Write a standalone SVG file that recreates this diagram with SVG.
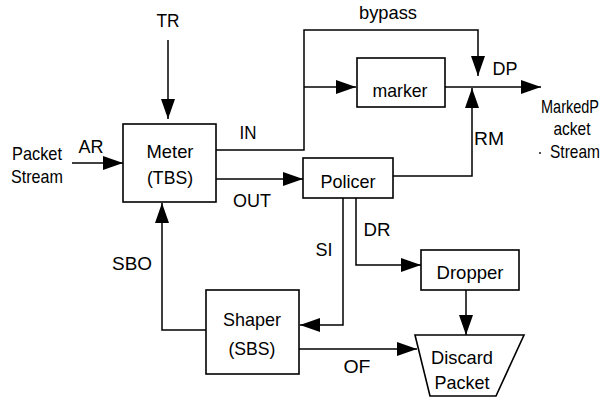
<svg xmlns="http://www.w3.org/2000/svg" width="615" height="398" viewBox="0 0 615 398">
<style>
  .box{fill:#fff;stroke:#000;stroke-width:1.6}
  .ln{fill:none;stroke:#000;stroke-width:1.5}
  text{font-family:"Liberation Sans",Arial,sans-serif;font-size:19px;fill:#000;text-anchor:middle}
</style>
<defs>
  <marker id="ah" markerUnits="userSpaceOnUse" markerWidth="22" markerHeight="16" refX="20" refY="7" orient="auto">
    <path d="M0,0 L20,7 L0,14 z" fill="#000"/>
  </marker>
</defs>
<rect width="615" height="398" fill="#fff"/>
<g id="connectors">
  <line class="ln" x1="168" y1="40" x2="168" y2="119" marker-end="url(#ah)"/>
  <line class="ln" x1="72" y1="163" x2="123" y2="163" marker-end="url(#ah)"/>
  <polyline class="ln" points="216,150 304,150 304,30 478,30 478,76" marker-end="url(#ah)"/>
  <line class="ln" x1="304" y1="87" x2="356" y2="87" marker-end="url(#ah)"/>
  <line class="ln" x1="445" y1="87" x2="541" y2="87" marker-end="url(#ah)"/>
  <polyline class="ln" points="393,176 472,176 472,88" marker-end="url(#ah)"/>
  <line class="ln" x1="216" y1="179" x2="303" y2="179" marker-end="url(#ah)"/>
  <polyline class="ln" points="343,198 343,325 300,325" marker-end="url(#ah)"/>
  <polyline class="ln" points="356,198 356,265 421,265" marker-end="url(#ah)"/>
  <line class="ln" x1="466" y1="290" x2="466" y2="335" marker-end="url(#ah)"/>
  <polyline class="ln" points="206,330 162,330 162,203" marker-end="url(#ah)"/>
  <line class="ln" x1="299" y1="349" x2="417" y2="349" marker-end="url(#ah)"/>
</g>
<g id="labels">
  <text x="168" y="27" textLength="23" lengthAdjust="spacingAndGlyphs">TR</text>
  <text x="91" y="153" textLength="25" lengthAdjust="spacingAndGlyphs">AR</text>
  <text x="37" y="160" textLength="50" lengthAdjust="spacingAndGlyphs">Packet</text>
  <text x="37" y="183" textLength="52" lengthAdjust="spacingAndGlyphs">Stream</text>
  <text x="248" y="139" textLength="17" lengthAdjust="spacingAndGlyphs">IN</text>
  <text x="252" y="207" textLength="38" lengthAdjust="spacingAndGlyphs">OUT</text>
  <text x="388" y="19" textLength="58" lengthAdjust="spacingAndGlyphs">bypass</text>
  <text x="505" y="75" textLength="25" lengthAdjust="spacingAndGlyphs">DP</text>
  <text x="489" y="145" textLength="30" lengthAdjust="spacingAndGlyphs">RM</text>
  <text x="570" y="113" textLength="58" lengthAdjust="spacingAndGlyphs">MarkedP</text>
  <text x="572" y="135" textLength="37" lengthAdjust="spacingAndGlyphs">acket</text>
  <text x="575" y="158" textLength="50" lengthAdjust="spacingAndGlyphs">Stream</text>
  <circle cx="540" cy="153" r="0.9" fill="#000"/>
  <text x="132" y="270" textLength="40" lengthAdjust="spacingAndGlyphs">SBO</text>
  <text x="324" y="256" textLength="17" lengthAdjust="spacingAndGlyphs">SI</text>
  <text x="377" y="236" textLength="27" lengthAdjust="spacingAndGlyphs">DR</text>
  <text x="357" y="373" textLength="27" lengthAdjust="spacingAndGlyphs">OF</text>
</g>
<g id="meter">
  <rect class="box" x="123" y="124" width="93" height="78"/>
  <text x="170" y="158" textLength="47" lengthAdjust="spacingAndGlyphs">Meter</text>
  <text x="170" y="184" textLength="46" lengthAdjust="spacingAndGlyphs">(TBS)</text>
</g>
<g id="marker">
  <rect class="box" x="357" y="58" width="88" height="49"/>
  <text x="400" y="97" textLength="55" lengthAdjust="spacingAndGlyphs">marker</text>
</g>
<g id="policer">
  <rect class="box" x="303" y="158" width="90" height="40"/>
  <text x="348" y="188" textLength="55" lengthAdjust="spacingAndGlyphs">Policer</text>
</g>
<g id="dropper">
  <rect class="box" x="421" y="250" width="98" height="40"/>
  <text x="470" y="279" textLength="67" lengthAdjust="spacingAndGlyphs">Dropper</text>
</g>
<g id="shaper">
  <rect class="box" x="206" y="290" width="93" height="84"/>
  <text x="252" y="326" textLength="58" lengthAdjust="spacingAndGlyphs">Shaper</text>
  <text x="252" y="355" textLength="47" lengthAdjust="spacingAndGlyphs">(SBS)</text>
</g>
<g id="discard">
  <polygon class="box" points="415,335 524,335 496,396 430,396"/>
  <text x="462" y="364" textLength="62" lengthAdjust="spacingAndGlyphs">Discard</text>
  <text x="462" y="389" textLength="55" lengthAdjust="spacingAndGlyphs">Packet</text>
</g>
</svg>
